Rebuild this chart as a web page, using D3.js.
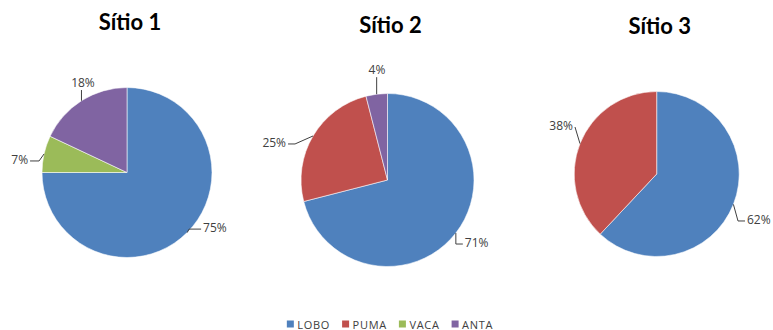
<!DOCTYPE html>
<html>
<head>
<meta charset="utf-8">
<script src="https://cdn.jsdelivr.net/npm/d3@7"></script>
<style>
  html, body { margin: 0; padding: 0; background: #fff; }
  svg { display: block; }
</style>
</head>
<body>
<svg id="chart" width="773" height="330"></svg>
<script>
// Species recorded at each site, in percent
const categories = ["LOBO", "PUMA", "VACA", "ANTA"];
const sites = ["Sítio 1", "Sítio 2", "Sítio 3"];
const sitio1 = [75, 0, 7, 18];
const sitio2 = [71, 25, 0, 4];
const sitio3 = [62, 38, 0, 0];
const seriesBySite = [sitio1, sitio2, sitio3];

const colors = ["#4F81BD", "#C0504D", "#9BBB59", "#8064A2"];

// Pie placement: centre, radius and title baseline for each site
const pieLayout = [
  { cx: 127, cy: 172.5, r: 85, titleY: 29.5 },
  { cx: 387.5, cy: 180, r: 86.5, titleY: 32.5 },
  { cx: 656.7, cy: 174, r: 82.5, titleY: 33.5 }
];

// Data-label offsets from the slice's outer mid-point (dx, dy to text anchor/baseline)
// and the length of the horizontal tail of each leader line
const labelLayout = [
  { LOBO: { dx: 16, dy: -0.5, tail: 12 }, VACA: { dx: -16, dy: 10, tail: 9 }, ANTA: { dx: 1.5, dy: -13.7, tail: 0 } },
  { LOBO: { dx: 9, dy: 14, tail: 8 }, PUMA: { dx: -27, dy: 11, tail: 7 }, ANTA: { dx: 0.3, dy: -20, tail: 0 } },
  { LOBO: { dx: 13.6, dy: 19.6, tail: 7 }, PUMA: { dx: -7, dy: -13.6, tail: 0 } }
];

const svg = d3.select("#chart");
const color = d3.scaleOrdinal().domain(categories).range(colors);
const pie = d3.pie().sort(null).value(d => d.value);

seriesBySite.forEach((values, i) => {
  const L = pieLayout[i];
  const rows = categories.map((c, k) => ({ category: c, value: values[k] }));
  const arcs = pie(rows);
  const arc = d3.arc().innerRadius(0).outerRadius(L.r);

  const g = svg.append("g").attr("transform", `translate(${L.cx},${L.cy})`);

  g.selectAll("path.slice")
    .data(arcs.filter(a => a.data.value > 0))
    .join("path")
    .attr("class", "slice")
    .attr("d", arc)
    .attr("fill", d => color(d.data.category))
    .attr("stroke", "#ffffff")
    .attr("stroke-opacity", 0.7)
    .attr("stroke-width", 0.8);

  // title
  svg.append("text")
    .attr("x", L.cx + 3)
    .attr("y", L.titleY)
    .attr("text-anchor", "middle")
    .attr("font-family", "Lato, 'Open Sans', sans-serif")
    .attr("font-weight", "bold")
    .attr("font-size", 22)
    .attr("fill", "#000")
    .text(sites[i]);

  // data labels with leader lines
  arcs.filter(a => a.data.value > 0).forEach(a => {
    const lay = labelLayout[i][a.data.category];
    if (!lay) return;
    const mid = (a.startAngle + a.endAngle) / 2;
    const ex = L.r * Math.sin(mid);
    const ey = -L.r * Math.cos(mid);
    const tx = ex + lay.dx;
    const ty = ey + lay.dy;
    let anchor, pts;
    if (Math.abs(lay.dx) < 4) {
      anchor = "middle";
      pts = [[ex, ey], [ex, ty + 3]];
    } else {
      const side = lay.dx > 0 ? 1 : -1;
      anchor = side > 0 ? "start" : "end";
      const ax = tx - side * 2;
      const ay = ty - 3;
      const tail = Math.min(lay.tail, Math.abs(ax - ex));
      pts = [[ex, ey], [ax - side * tail, ay], [ax, ay]];
    }
    g.append("path")
      .attr("d", d3.line()(pts))
      .attr("fill", "none")
      .attr("stroke", "#404040")
      .attr("stroke-width", 1);
    g.append("text")
      .attr("x", tx)
      .attr("y", ty)
      .attr("text-anchor", anchor)
      .attr("font-family", "'Open Sans', sans-serif")
      .attr("font-size", 12)
      .attr("fill", "#404040")
      .text(d3.format(".0%")(a.data.value / 100));
  });
});

// legend
const legend = svg.append("g");
let lx = 0;
categories.forEach(c => {
  const item = legend.append("g").attr("transform", `translate(${lx},0)`);
  item.append("rect")
    .attr("x", 0).attr("y", -7)
    .attr("width", 7).attr("height", 7)
    .attr("fill", color(c));
  const t = item.append("text")
    .attr("x", 10.5).attr("y", 1)
    .attr("font-family", "'Open Sans', sans-serif")
    .attr("font-size", 11)
    .attr("letter-spacing", 0.7)
    .attr("fill", "#404040")
    .text(c);
  lx += 10.5 + t.node().getComputedTextLength() + 12;
});
const legendWidth = lx - 12;
legend.attr("transform", `translate(${390 - legendWidth / 2},327.5)`);
</script>
</body>
</html>
